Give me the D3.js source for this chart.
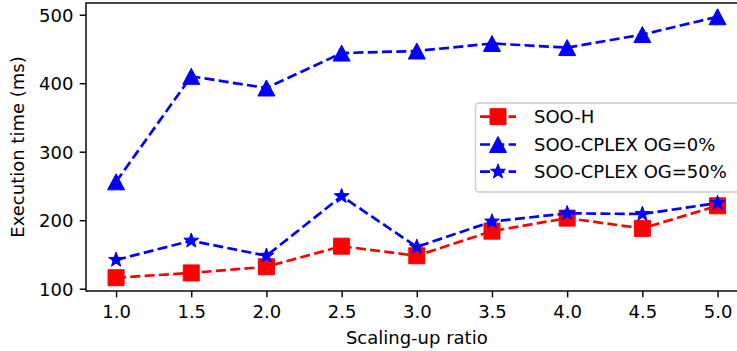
<!DOCTYPE html>
<html>
<head>
<meta charset="utf-8">
<script src="https://cdn.jsdelivr.net/npm/d3@7"></script>
<style>
  body { margin: 0; background: #fff; }
  svg { display: block; overflow: hidden; }
  text { font-family: "DejaVu Sans", sans-serif; fill: #000; }
</style>
</head>
<body>
<div id="chart"></div>
<script>
// data
var ratios = [1.0, 1.5, 2.0, 2.5, 3.0, 3.5, 4.0, 4.5, 5.0];
var sooH = [116, 123, 132, 162, 148, 184, 203, 188, 221];
var cplex0 = [256, 410, 393, 444, 447, 458, 452, 471, 497];
var cplex50 = [142, 170, 148, 235, 161, 198, 210, 209, 225];
var xTicks = [1.0, 1.5, 2.0, 2.5, 3.0, 3.5, 4.0, 4.5, 5.0];
var yTicks = [100, 200, 300, 400, 500];
var seriesNames = ["SOO-H", "SOO-CPLEX OG=0%", "SOO-CPLEX OG=50%"];

const width = 737;
const height = 351;
const plotLeft = 86, plotRight = 747.6, plotTop = 3, plotBottom = 291;
const fontSize = 18;
const lineW = 2.7;
const dash = "10,4.3";

var series = [
  { name: seriesNames[0], values: sooH, color: "#ff0000", marker: "square" },
  { name: seriesNames[1], values: cplex0, color: "#0000ff", marker: "triangle" },
  { name: seriesNames[2], values: cplex50, color: "#0000ff", marker: "star" }
];

var svg = d3.select("#chart")
  .append("svg")
  .attr("width", width)
  .attr("height", height);

var x = d3.scaleLinear().domain([0.8, 5.2]).range([plotLeft, plotRight]);
var y = d3.scaleLinear().domain([96.6, 517.1]).range([plotBottom, plotTop]);

function markerPath(type) {
  if (type === "square") {
    return "M-8,-8H8V8H-8Z";
  }
  if (type === "triangle") {
    return "M0,-8L8.5,8L-8.5,8Z";
  }
  // five point star, outer radius 7.8
  var pts = [];
  for (let i = 0; i < 10; i++) {
    let r = i % 2 === 0 ? 7.8 : 3.2;
    let a = -Math.PI / 2 + i * Math.PI / 5;
    pts.push([r * Math.cos(a), r * Math.sin(a)]);
  }
  return "M" + pts.map(p => p[0].toFixed(2) + "," + p[1].toFixed(2)).join("L") + "Z";
}

// axes
var xAxis = svg.append("g")
  .attr("transform", `translate(0,${plotBottom})`)
  .call(d3.axisBottom(x).tickValues(xTicks).tickFormat(d3.format(".1f"))
    .tickSizeInner(6.3).tickSizeOuter(0).tickPadding(8));
var yAxis = svg.append("g")
  .attr("transform", `translate(${plotLeft},0)`)
  .call(d3.axisLeft(y).tickValues(yTicks).tickSizeInner(6.3).tickSizeOuter(0).tickPadding(6.3));

[xAxis, yAxis].forEach(function(a) {
  a.select(".domain").remove();
  a.selectAll(".tick line").attr("stroke", "#000").attr("stroke-width", 1.44);
  a.selectAll(".tick text")
    .attr("fill", "#1a1a1a")
    .style("font-size", fontSize + "px")
    .style("font-family", "'DejaVu Sans', sans-serif");
});
yAxis.selectAll(".tick text").attr("dy", "0.36em");

// lines + markers, in drawing order
var line = d3.line()
  .x((d, i) => x(ratios[i]))
  .y(d => y(d));

series.forEach(function(s) {
  svg.append("path")
    .attr("d", line(s.values))
    .attr("fill", "none")
    .attr("stroke", s.color)
    .attr("stroke-width", lineW)
    .attr("stroke-dasharray", dash);
  svg.selectAll("path.m-" + s.marker)
    .data(s.values)
    .enter()
    .append("path")
    .attr("class", "m-" + s.marker)
    .attr("d", markerPath(s.marker))
    .attr("transform", (d, i) => `translate(${x(ratios[i])},${y(d)})`)
    .attr("fill", s.color)
    .attr("stroke", s.color)
    .attr("stroke-width", 1);
});

// frame
svg.append("rect")
  .attr("x", plotLeft)
  .attr("y", plotTop)
  .attr("width", plotRight - plotLeft)
  .attr("height", plotBottom - plotTop)
  .attr("fill", "none")
  .attr("stroke", "#000")
  .attr("stroke-width", 1.44);

// axis labels
svg.append("text")
  .attr("x", (plotLeft + plotRight) / 2)
  .attr("y", 344)
  .attr("text-anchor", "middle")
  .attr("fill", "#1a1a1a")
  .style("font-size", fontSize + "px")
  .text("Scaling-up ratio");

svg.append("text")
  .attr("transform", `translate(24,${(plotTop + plotBottom) / 2}) rotate(-90)`)
  .attr("text-anchor", "middle")
  .attr("fill", "#1a1a1a")
  .style("font-size", fontSize + "px")
  .text("Execution time (ms)");

// legend
var legend = svg.append("g");
legend.append("rect")
  .attr("x", 475.5)
  .attr("y", 103)
  .attr("width", 300)
  .attr("height", 89)
  .attr("rx", 3.6)
  .attr("fill", "#fff")
  .attr("fill-opacity", 0.8)
  .attr("stroke", "#cccccc")
  .attr("stroke-width", 1.4);

var rowY = [116.7, 144.5, 171.7];
series.forEach(function(s, i) {
  let g = legend.append("g").attr("transform", `translate(0,${rowY[i]})`);
  g.append("line")
    .attr("x1", 480).attr("x2", 516)
    .attr("y1", 0).attr("y2", 0)
    .attr("stroke", s.color)
    .attr("stroke-width", lineW)
    .attr("stroke-dasharray", dash);
  g.append("path")
    .attr("d", markerPath(s.marker))
    .attr("transform", "translate(498,0)")
    .attr("fill", s.color)
    .attr("stroke", s.color)
    .attr("stroke-width", 1);
  g.append("text")
    .attr("x", 534)
    .attr("y", 0)
    .attr("dy", "0.36em")
    .attr("fill", "#1a1a1a")
    .style("font-size", fontSize + "px")
    .text(s.name);
});
</script>
</body>
</html>
